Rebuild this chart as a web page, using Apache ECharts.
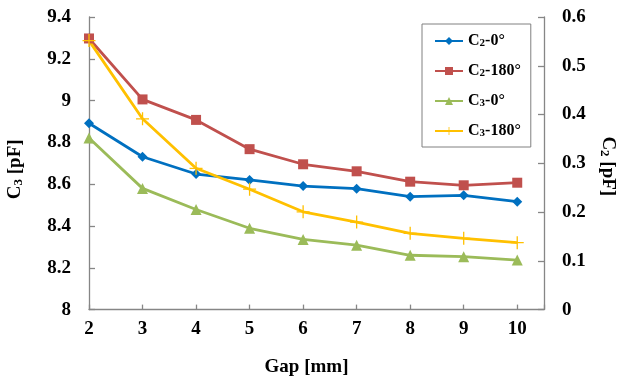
<!DOCTYPE html>
<html>
<head>
<meta charset="utf-8">
<script src="https://cdn.jsdelivr.net/npm/echarts@6/dist/echarts.min.js"></script>
<style>html,body{margin:0;padding:0;background:#fff;}#c{width:618px;height:381px;}</style>
</head>
<body>
<div id="c"></div>
<script>
const gaps = [2, 3, 4, 5, 6, 7, 8, 9, 10];
const c2_0 = [0.382, 0.3135, 0.278, 0.266, 0.2534, 0.248, 0.2315, 0.2344, 0.2213];
const c2_180 = [0.556, 0.431, 0.389, 0.329, 0.298, 0.2836, 0.2623, 0.2549, 0.2602];
const c3_0 = [8.821, 8.580, 8.479, 8.389, 8.336, 8.308, 8.260, 8.253, 8.237];
const c3_180 = [9.287, 8.913, 8.676, 8.576, 8.468, 8.419, 8.365, 8.341, 8.320];
const leftTicks = ['8', '8.2', '8.4', '8.6', '8.8', '9', '9.2', '9.4'];
const rightTicks = ['0', '0.1', '0.2', '0.3', '0.4', '0.5', '0.6'];

const FONT = 'Liberation Serif';
const pair = v => gaps.map((g, i) => [g, v[i]]);
const sub = (base, s, rest) => `{a|${base}}{s|${s}}{a|${rest}}`;
const richName = {
  a: {fontFamily: FONT, fontWeight: 'bold', fontSize: 19, color: '#000'},
  s: {fontFamily: FONT, fontWeight: 'bold', fontSize: 13, color: '#000', verticalAlign: 'bottom', padding: [6, 0, 0, 0]}
};
const richLeg = {
  a: {fontFamily: FONT, fontWeight: 'bold', fontSize: 16, color: '#000'},
  s: {fontFamily: FONT, fontWeight: 'bold', fontSize: 11, color: '#000', padding: [5, 0, 0, 0]}
};
const axisLineStyle = {color: '#868686', width: 1.3};
const labelStyle = {fontFamily: FONT, fontWeight: 'bold', fontSize: 19, color: '#000'};
const plusPath = 'path://M4.5,0 L5.5,0 L5.5,4.5 L10,4.5 L10,5.5 L5.5,5.5 L5.5,10 L4.5,10 L4.5,5.5 L0,5.5 L0,4.5 L4.5,4.5 Z';

const legendNames = {
  'C2-0°': sub('C', '2', '-0°'),
  'C2-180°': sub('C', '2', '-180°'),
  'C3-0°': sub('C', '3', '-0°'),
  'C3-180°': sub('C', '3', '-180°')
};

const chart = echarts.init(document.getElementById('c'));
chart.setOption({
  animation: false,
  backgroundColor: '#fff',
  grid: {left: 89, right: 74, top: 17, bottom: 71.4, containLabel: false, outerBoundsMode: 'none'},
  legend: {
    orient: 'vertical', left: 422, top: 24, width: 106,
    padding: [9, 10, 8, 12], itemGap: 14, itemWidth: 28, itemHeight: 10,
    borderColor: '#808080', borderWidth: 1,
    formatter: n => legendNames[n],
    textStyle: {rich: richLeg},
    data: ['C2-0°', 'C2-180°', 'C3-0°', 'C3-180°']
  },
  xAxis: {
    type: 'value', min: 2, max: 10.5, interval: 1,
    name: 'Gap [mm]', nameLocation: 'middle', nameGap: 48,
    nameTextStyle: {fontFamily: FONT, fontWeight: 'bold', fontSize: 19, color: '#000', padding: [0, 20, 0, 0]},
    axisLine: {show: true, lineStyle: axisLineStyle},
    axisTick: {show: true, inside: true, length: 5, lineStyle: axisLineStyle},
    splitLine: {show: false},
    axisLabel: Object.assign({margin: 10, formatter: v => Number.isInteger(v) ? String(v) : ''}, labelStyle)
  },
  yAxis: [{
    type: 'value', min: 8, max: 9.4, interval: 0.2, position: 'left',
    name: sub('C', '3', ' [pF]'), nameLocation: 'middle', nameGap: 64,
    nameTextStyle: {rich: richName, padding: [0, 12, 0, 0]},
    axisLine: {show: true, lineStyle: axisLineStyle},
    axisTick: {show: true, inside: true, length: 6, lineStyle: axisLineStyle},
    splitLine: {show: false},
    axisLabel: Object.assign({margin: 18, formatter: (v, i) => leftTicks[i]}, labelStyle)
  }, {
    type: 'value', min: 0, max: 0.6, interval: 0.1, position: 'right',
    name: sub('C', '2', ' [pF]'), nameLocation: 'middle', nameGap: 54, nameRotate: -90,
    nameTextStyle: {rich: richName, padding: [0, 0, 0, 6]},
    axisLine: {show: true, lineStyle: axisLineStyle},
    axisTick: {show: true, inside: true, length: 6, lineStyle: axisLineStyle},
    splitLine: {show: false},
    axisLabel: Object.assign({margin: 18, formatter: (v, i) => rightTicks[i]}, labelStyle)
  }],
  series: [
    {name: 'C2-0°', type: 'line', yAxisIndex: 1, data: pair(c2_0), symbol: 'diamond', symbolSize: 10,
     color: '#0070C0', lineStyle: {width: 2.8}, itemStyle: {color: '#0070C0'}},
    {name: 'C2-180°', type: 'line', yAxisIndex: 1, data: pair(c2_180), symbol: 'rect', symbolSize: 10,
     color: '#C0504D', lineStyle: {width: 2.8}, itemStyle: {color: '#C0504D'}},
    {name: 'C3-0°', type: 'line', yAxisIndex: 0, data: pair(c3_0), symbol: 'triangle', symbolSize: 11,
     color: '#9BBB59', lineStyle: {width: 2.8}, itemStyle: {color: '#9BBB59'}},
    {name: 'C3-180°', type: 'line', yAxisIndex: 0, data: pair(c3_180), symbol: plusPath, symbolSize: 13,
     color: '#FFC000', lineStyle: {width: 2.8}, itemStyle: {color: '#FFC000'}}
  ]
});
</script>
</body>
</html>
